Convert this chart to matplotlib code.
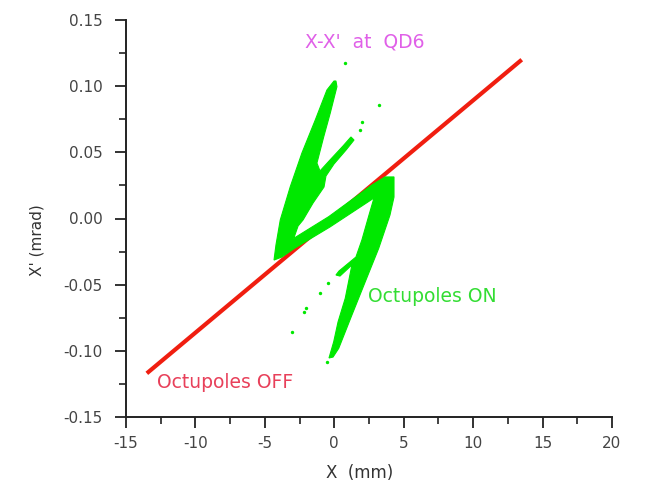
import matplotlib
matplotlib.use("Agg")
import matplotlib.pyplot as plt
from matplotlib.ticker import MultipleLocator

# ---- data ----
# Octupoles OFF: thin linear phase-space ellipse (end points of the red streak)
off_x = [-13.5, 13.5]
off_y = [-0.117, 0.120]

# Octupoles ON: outline of the S-shaped (filamented) distribution
on_x = [-0.02, -0.53, -1.37, -2.33, -3.17, -3.89, -4.20, -4.34, -3.77, -2.83,
        -0.31, 2.86, 2.50, 1.99, 1.56, 0.34, 0.12, 0.41, 1.27, 0.79,
        0.27, -0.04, -0.38, -0.09, 0.32, 1.27, 2.23, 3.20, 4.01, 4.30,
        4.30, 3.65, 2.71, -0.40, -2.92, -2.61, -2.25, -1.53, -0.74, -0.60,
        -0.02, 0.85, 1.42, 1.20, 0.63, -0.31, -1.03, -1.25, -0.76, -0.29,
        0.19, 0.12]
on_y = [0.1039, 0.0971, 0.0744, 0.0495, 0.0240, -0.0011, -0.0200, -0.0314, -0.0291, -0.0223,
        -0.0064, 0.0155, 0.0026, -0.0162, -0.0291, -0.0397, -0.0427, -0.0435, -0.0351, -0.0603,
        -0.0782, -0.0931, -0.1054, -0.1047, -0.0981, -0.0729, -0.0478, -0.0225, 0.0026, 0.0162,
        0.0314, 0.0314, 0.0253, 0.0014, -0.0150, -0.0057, -0.0011, 0.0117, 0.0238, 0.0321,
        0.0412, 0.0518, 0.0593, 0.0616, 0.0548, 0.0442, 0.0359, 0.0419, 0.0618, 0.0797,
        0.0996, 0.1039]

# isolated particles / broken filament pieces
dots_x = [1.85, 1.99, 3.20, 0.77, -0.45, -1.03, -2.04, -2.18, -3.05, -0.53]
dots_y = [0.0669, 0.0731, 0.0858, 0.1175, -0.0487, -0.0563, -0.0676, -0.0707, -0.0858, -0.1084]

xticks = [-15, -10, -5, 0, 5, 10, 15, 20]
xtick_labels = ["-15", "-10", "-5", "0", "5", "10", "15", "20"]
yticks = [-0.15, -0.10, -0.05, 0.00, 0.05, 0.10, 0.15]
ytick_labels = ["-0.15", "-0.10", "-0.05", "0.00", "0.05", "0.10", "0.15"]

# ---- figure ----
fig = plt.figure(figsize=(6.5, 4.88), dpi=100)
ax = fig.add_axes([126/650, 1 - 417/488, (612 - 126)/650, (417 - 20)/488])

red = "#f01e10"
green = "#00e800"

ax.plot(off_x, off_y, color=red, lw=3.0, solid_capstyle="butt", zorder=2)
ax.fill(on_x, on_y, color=green, lw=0.8, ec=green, zorder=3)
ax.scatter(dots_x, dots_y, s=6, color=green, lw=0, zorder=3)

ax.set_xlim(-15, 20)
ax.set_ylim(-0.15, 0.15)
ax.set_xticks(xticks)
ax.set_xticklabels(xtick_labels)
ax.set_yticks(yticks)
ax.set_yticklabels(ytick_labels)
ax.xaxis.set_minor_locator(MultipleLocator(2.5))
ax.yaxis.set_minor_locator(MultipleLocator(0.025))

for s in ["top", "right"]:
    ax.spines[s].set_visible(False)
for s in ["left", "bottom"]:
    ax.spines[s].set_linewidth(1.4)
    ax.spines[s].set_color("#222222")

ax.tick_params(which="major", direction="out", length=8, width=1.3,
               colors="#222222", labelsize=11, labelcolor="#444444")
ax.tick_params(axis="y", which="major", pad=9)
ax.tick_params(axis="x", which="major", pad=6)
ax.tick_params(which="minor", direction="out", length=5, width=1.2, colors="#222222")

ax.set_xlabel("X  (mm)", fontsize=12, color="#333333")
ax.xaxis.set_label_coords((360 - 126) / 486, (417 - 464) / 397)
ax.set_ylabel("X' (mrad)", fontsize=11, color="#333333")
ax.yaxis.set_label_coords((44 - 126) / 486, (417 - 240) / 397)

ax.text(2.2, 0.1334, "X-X'  at  QD6", color="#e060e8", fontsize=13.5,
        ha="center", va="center")
ax.text(2.45, -0.0593, "Octupoles ON", color="#33dd33", fontsize=13.5,
        ha="left", va="center")
ax.text(-12.8, -0.1243, "Octupoles OFF", color="#e8405a", fontsize=13.5,
        ha="left", va="center")

fig.savefig("out.png", dpi=100)
